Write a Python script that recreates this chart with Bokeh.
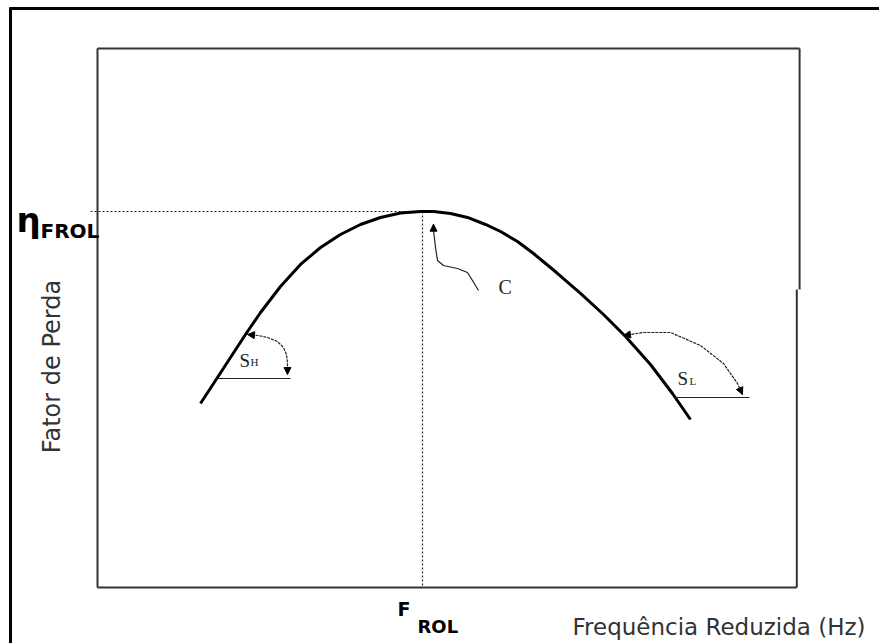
import numpy as np
from bokeh.plotting import figure
from bokeh.models import Range1d, Arrow, NormalHead
from bokeh.core.properties import value
from bokeh.embed import file_html
from bokeh.resources import INLINE

# ---- data (inner box spans 0..100 on both axes) ----
curve_x = [14.71, 16.86, 19.0, 21.14, 23.29, 26.14, 29.0, 31.86, 34.71, 37.57, 40.43,
           43.29, 46.14, 48.0, 50.43, 52.86, 55.43, 57.57, 60.0, 62.29, 65.57, 69.0,
           72.29, 75.43, 79.0, 82.14, 84.71]
curve_y = [34.14, 38.40, 42.67, 46.94, 51.02, 55.84, 59.93, 63.08, 65.49, 67.35, 68.65,
           69.48, 69.76, 69.76, 69.39, 68.65, 67.35, 66.05, 64.19, 61.97, 58.44, 54.55,
           50.65, 46.57, 41.37, 35.99, 31.17]
f_rol = 46.43      # peak frequency position
eta_frol = 69.76   # peak loss factor

# slope annotation S_H
sh_arc_x = [21.43, 23.0, 24.29, 25.71, 26.57, 27.0, 27.14, 27.14]
sh_arc_y = [46.94, 46.75, 46.38, 45.64, 44.53, 43.23, 41.74, 39.52]
sh_base_x = [17.14, 27.57]
sh_base_y = [38.78, 38.78]
# slope annotation S_L
sl_arc_x = [75.14, 78.0, 81.86, 86.14, 89.43, 91.43, 92.14]
sl_arc_y = [46.75, 47.31, 47.31, 44.90, 41.56, 37.85, 35.81]
sl_base_x = [82.29, 93.14]
sl_base_y = [35.25, 35.25]
# curvature pointer C
c_x = [54.43, 53.57, 52.86, 51.43, 49.43, 48.57, 48.29, 48.0, 48.0]
c_y = [55.10, 56.96, 58.44, 59.18, 59.74, 60.67, 63.08, 66.23, 67.4]

XS, YS = 7.0, 5.39  # px per unit

p = figure(width=879, height=643,
           x_range=Range1d(-97 / XS, 782 / XS), y_range=Range1d(-56 / YS, 587 / YS),
           output_backend="svg", toolbar_location=None, min_border=0,
           x_axis_type=None, y_axis_type=None)
p.grid.visible = False
p.outline_line_color = None
p.background_fill_color = "white"
p.border_fill_color = "white"

# outer page frame (top and left)
p.line([-12.6, 112.0], [107.42, 107.42], line_color="black", line_width=3)
p.line([-12.43, -12.43], [107.42, -11.0], line_color="black", line_width=3)

# inner plot box
box_col = "#333333"
p.line([0, 100.3], [100, 100], line_color=box_col, line_width=2)
p.line([0, 0], [0, 100], line_color=box_col, line_width=2)
p.line([0, 99.9], [0, 0], line_color=box_col, line_width=2)
p.line([100.3, 100.3], [100, 55.3], line_color=box_col, line_width=2)
p.line([99.9, 99.9], [55.3, 0], line_color=box_col, line_width=2)

# reference dotted lines
p.line([-1.0, f_rol], [eta_frol, eta_frol], line_color="#222222", line_width=1.2, line_dash="2 2")
p.line([f_rol, f_rol], [eta_frol, 0], line_color="#222222", line_width=1.2, line_dash="2 2")

# main curve
p.line(curve_x, curve_y, line_color="black", line_width=3, line_join="round")

# annotations
thin = dict(line_color="#222222", line_width=1.2)
p.line(sh_arc_x, sh_arc_y, line_dash="3 1", **thin)
p.line(sh_base_x, sh_base_y, **thin)
p.line(sl_arc_x, sl_arc_y, line_dash="3 1", **thin)
p.line(sl_base_x, sl_base_y, **thin)
p.line(c_x, c_y, **thin)


def head(x0, y0, x1, y1):
    p.add_layout(Arrow(end=NormalHead(size=7, fill_color="black", line_color="black"),
                       x_start=x0, y_start=y0, x_end=x1, y_end=y1, line_alpha=0))


head(sh_arc_x[1], sh_arc_y[1], sh_arc_x[0], sh_arc_y[0])
head(sh_arc_x[-2], sh_arc_y[-2], sh_arc_x[-1], sh_arc_y[-1])
head(sl_arc_x[1], sl_arc_y[1], sl_arc_x[0], sl_arc_y[0])
head(sl_arc_x[-2], sl_arc_y[-2], sl_arc_x[-1], sl_arc_y[-1])
head(c_x[-2], c_y[-2], c_x[-1], c_y[-1])


def txt(x, y, s, size, font="DejaVu Sans", style="normal", color="#222222", angle=0,
        align="left", baseline="alphabetic"):
    p.text(x=[x], y=[y], text=[s], text_font=value(font), text_font_size=size,
           text_font_style=style, text_color=color, angle=angle,
           text_align=align, text_baseline=baseline)


def px(xp, yp, shift=7):
    return (xp - 97) / XS, (587 - (yp - shift)) / YS


# labels
txt(*px(16, 226), "η", "34px", style="bold", color="black")
txt(*px(40, 237), "FROL", "20px", style="bold", color="black")
txt(*px(397, 615), "F", "19px", style="bold", color="black")
txt(*px(417, 633), "ROL", "18px", style="bold", color="black")
txt(*px(572, 633), "Frequência Reduzida (Hz)", "23px", color="#333333")
txt(*px(51, 366, 0), "Fator de Perda", "24px", color="#333333", angle=np.pi / 2,
    align="center", baseline="middle")
txt(*px(498, 293), "C", "20px", font="Liberation Serif", color="#222222")
txt(*px(239, 367), "S", "19px", font="Liberation Serif", color="#222222")
txt(*px(250, 368), "H", "11px", font="Liberation Serif", color="#222222")
txt(*px(677, 385), "S", "19px", font="Liberation Serif", color="#222222")
txt(*px(689, 387), "L", "11px", font="Liberation Serif", color="#222222")

open("out.html", "w").write(file_html(p, INLINE))
